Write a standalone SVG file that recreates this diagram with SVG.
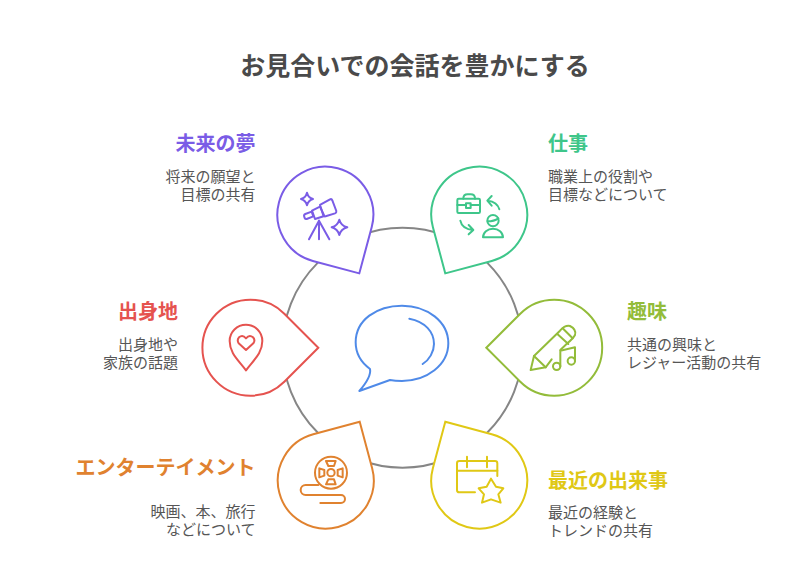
<svg xmlns="http://www.w3.org/2000/svg" width="804" height="588" viewBox="0 0 804 588">
<style>
text{font-family:"Noto Sans CJK JP","Noto Sans",sans-serif}
.title{font-size:25px;font-weight:700;fill:#4a4a4a;text-anchor:middle}
.h{font-size:20px;font-weight:700}
.d{font-size:15px;fill:#565656}
.e{text-anchor:end}
.drop{fill:#fff;stroke-width:2}
.ic{fill:none;stroke-width:6;stroke-linecap:round;stroke-linejoin:round}
.purple{stroke:#7a5ce6}.green{stroke:#3ec68a}.lime{stroke:#93bc3a}.yellow{stroke:#e0c815}.orange{stroke:#e0822f}.red{stroke:#e5534f}.blue{stroke:#4f8ae8}
</style>
<defs>
<path id="drop" d="M-68 0L-34 -34A48 48 0 1 1 -34 34Z"/>
</defs>
<rect width="804" height="588" fill="#fff"/>
<text class="title" x="415" y="74.5">お見合いでの会話を豊かにする</text>
<g id="connectors">
<circle cx="402.5" cy="347.7" r="120" fill="none" stroke="#868686" stroke-width="2"/>
</g>
<g id="center">
<g class="ic blue" transform="translate(340,295) scale(.3333)">
<path d="M58,288Q95,245 90,222C60,200 47,175 47,142C47,75 110,32 186,32C262,32 325,80 325,145C325,210 260,258 186,258Q165,258 150,255Z"/>
<path d="M208,71C255,80 282,110 282,147C282,170 268,195 248,207"/>
</g>
</g>
<g id="node-mirai">
<use href="#drop" class="drop purple" transform="translate(325.3,214.5) rotate(-120)"/>
<g class="ic purple" transform="translate(260,150) scale(.3333)">
<path d="M141,128Q145,143 159,147Q145,151 141,166Q137,151 123,147Q137,143 141,128Z"/>
<path d="M238,209Q243,227 262,232Q243,237 238,255Q233,237 215,232Q233,227 238,209Z"/>
<path d="M180,165L210,148Q215,146 217,151L229,183Q230,188 225,190L197,199Q192,200 190,196Z"/>
<path d="M156,182L180,170L193,198L165,207Z"/>
<path d="M136,192L155,185L160,199L140,207Q136,208 134,204L132,197Q132,194 136,192Z"/>
<path d="M177,212L147,268M177,212V268M177,212L208,268"/>
</g>
<text class="h e" x="255.5" y="151" fill="#7a5ce6">未来の夢</text>
<text class="d e" x="255.5" y="182">将来の願望と</text>
<text class="d e" x="255.5" y="200">目標の共有</text>
</g>
<g id="node-shigoto">
<use href="#drop" class="drop green" transform="translate(479.3,214.5) rotate(-60)"/>
<g class="ic green" transform="translate(420,150) scale(.3333)">
<rect x="112" y="146" width="68" height="43" rx="4"/>
<path d="M130,146Q130,133 143,133H152Q165,133 165,146"/>
<path d="M112,165H138M152,165H180"/>
<rect x="138" y="160" width="14" height="14"/>
<path d="M238,178Q232,155 203,152M215,138L202,152L215,167"/>
<path d="M121,212Q126,237 159,240M146,225L160,240L146,253"/>
<circle cx="219" cy="212" r="17"/>
<path d="M203,214Q222,214 235,205"/>
<path d="M189,262A30,26 0 0 1 249,262Z"/>
</g>
<text class="h" x="548" y="151" fill="#3ec68a">仕事</text>
<text class="d" x="548" y="182">職業上の役割や</text>
<text class="d" x="548" y="200">目標などについて</text>
</g>
<g id="node-shumi">
<use href="#drop" class="drop lime" transform="translate(554.3,347.7)"/>
<g class="ic lime" transform="translate(480,290) scale(.3333)">
<path d="M215,208L197,232L152,240L162,198L240,122Q255,105 270,108Q290,118 285,135Q280,145 262,160L241,180"/>
<path d="M162,198L197,232M232,132L265,162M248,115L278,145"/>
<circle cx="230" cy="229" r="11"/>
<circle cx="274" cy="213" r="11"/>
<path d="M241,229V182L285,172V213"/>
</g>
<text class="h" x="627" y="319" fill="#93bc3a">趣味</text>
<text class="d" x="627" y="350">共通の興味と</text>
<text class="d" x="627" y="368">レジャー活動の共有</text>
</g>
<g id="node-saikin">
<use href="#drop" class="drop yellow" transform="translate(479.3,480.7) rotate(60)"/>
<g class="ic yellow" transform="translate(420,410) scale(.3333)">
<path d="M165,247H118Q111,247 111,240V160Q111,153 118,153H225Q232,153 232,160V198"/>
<path d="M111,182H232M141,140V172M201,140V172"/>
<path d="M213,206L228,230L250,235L235,253L242,278L213,268L186,278L192,253L176,235L200,230Z"/>
</g>
<text class="h" x="548" y="488" fill="#e0c815">最近の出来事</text>
<text class="d" x="548" y="518">最近の経験と</text>
<text class="d" x="548" y="536">トレンドの共有</text>
</g>
<g id="node-entame">
<use href="#drop" class="drop orange" transform="translate(325.7,480.7) rotate(120)"/>
<g class="ic orange" transform="translate(265,410) scale(.3333)">
<circle cx="198" cy="188" r="48"/>
<circle cx="198" cy="188" r="11"/>
<path d="M183,153H212L207,168H190Z"/>
<path d="M190,208H207L212,223H183Z"/>
<path d="M163,175L178,180V197L163,202Z"/>
<path d="M233,175L218,180V197L233,202Z"/>
<path d="M160,225H122A15,15 0 0 0 122,255H228A12,12 0 0 1 228,279H166"/>
</g>
<text class="h e" x="255.5" y="475" fill="#e0822f">エンターテイメント</text>
<text class="d e" x="255.5" y="517">映画、本、旅行</text>
<text class="d e" x="255.5" y="535">などについて</text>
</g>
<g id="node-shusshin">
<use href="#drop" class="drop red" transform="translate(250.3,347.7) rotate(180)"/>
<g class="ic red" transform="translate(195,290) scale(.3333)">
<path d="M153,241C130,210 104,190 104,153A49,49 0 0 1 202,153C202,190 176,210 153,241Z"/>
<path d="M153,180L131,160Q125,150 132,142Q143,133 153,145Q163,133 174,142Q182,150 175,160Z"/>
</g>
<text class="h e" x="178" y="319" fill="#e5534f">出身地</text>
<text class="d e" x="178" y="350">出身地や</text>
<text class="d e" x="178" y="368">家族の話題</text>
</g>
</svg>
